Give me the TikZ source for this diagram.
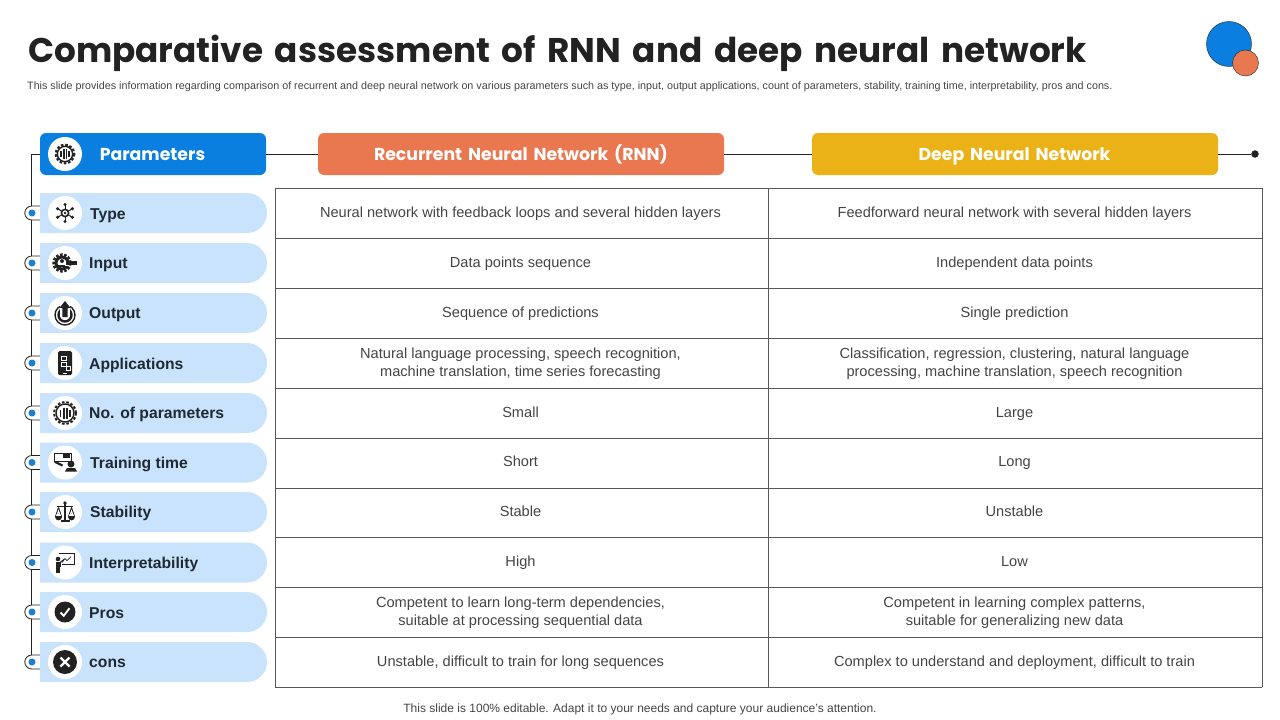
\documentclass[tikz,border=0pt]{standalone}
\usepackage{fontspec}
\setmainfont{Liberation Sans}
\newfontfamily\headfont{Poppins}
\newfontfamily\titlefont[WordSpace=1.6]{Poppins}
\usetikzlibrary{shapes.misc, positioning}

\definecolor{paramblue}{HTML}{0A7FE0}
\definecolor{rnnorange}{HTML}{E97850}
\definecolor{dnnyellow}{HTML}{EAB216}
\definecolor{pillblue}{HTML}{C8E3FB}
\definecolor{dotblue}{HTML}{1A80D0}
\definecolor{inkdark}{HTML}{222222}
\definecolor{labeldark}{HTML}{1F2933}
\definecolor{celltext}{HTML}{444444}

\tikzset{
  headbox/.style={rounded corners=6pt, minimum width=406pt, minimum height=42pt, inner sep=0pt},
  headtext/.style={inner sep=0pt, text=white, font=\headfont\fontsize{17.3}{20}\selectfont\bfseries,
    text height=12pt, text depth=0pt, yshift=-0.5pt},
  pill/.style={rounded rectangle, rounded rectangle left arc=none, fill=pillblue,
    minimum width=227pt, minimum height=40pt, inner sep=0pt},
  rowlabel/.style={anchor=west, inner sep=0pt, yshift=-1.6pt, text=labeldark, font=\fontsize{15.7}{18}\selectfont\bfseries,
    execute at begin node=\vphantom{Ag}},
  cell/.style={align=center, inner sep=0pt, yshift=-1pt, text=celltext, font=\fontsize{14.6}{18}\selectfont,
    execute at begin node=\vphantom{Ag}, execute at end node=\vphantom{Ag}},
  badge/.style={circle, fill=white, minimum size=34pt, inner sep=0pt},
  gridline/.style={draw=black!65, line width=0.9pt},
  % ICONS
  gearicon/.pic={
    \draw[inkdark, line width=2pt, dash pattern=on 2.6pt off 1.8pt] (0,0) circle (11);
    \draw[inkdark, line width=1.4pt, fill=white] (0,0) circle (9);
    \foreach \bx/\bh in {-5.5/3.5,-2.2/5.5,0.8/5.5,3.8/3.5} {\fill[inkdark] (\bx,-\bh) rectangle ++(1.7,2*\bh);}
  },
  typeicon/.pic={
    \foreach \ang in {30,90,150,210,270,330} {
      \draw[inkdark, line width=1pt] (0,0) -- (\ang:8.5);
      \fill[inkdark] (\ang:8.5) circle (1.7);
    }
    \draw[inkdark, line width=1.6pt, fill=white] (0,0) circle (3.6);
    \fill[inkdark] (0,0) circle (1.3);
  },
  inputicon/.pic={
    \draw[inkdark, line width=2.4pt, dash pattern=on 2.6pt off 1.6pt] (-3,0) circle (8.5);
    \draw[inkdark, line width=3pt, fill=white] (-3,0) circle (6);
    \fill[inkdark] (-3,-2) circle (2);
    \fill[inkdark] (-7,4) rectangle (1,1.5);
    \fill[white] (0,-2.5) rectangle (4,2.5);
    \fill[inkdark] (1,-2.4) rectangle (12,2.4);
  },
  outputicon/.pic={
    \draw[inkdark, line width=2.4pt] (0,2) circle (6.5);
    \draw[inkdark, line width=1.4pt] (0,2) circle (10);
    \fill[white] (-5,-10) -- (5,-10) -- (5,0) -- (-5,0) -- cycle;
    \fill[inkdark] (0,-12) -- (5.5,-5) -- (2.6,-5) -- (2.6,4) -- (-2.6,4) -- (-2.6,-5) -- (-5.5,-5) -- cycle;
  },
  phoneicon/.pic={
    \fill[inkdark, rounded corners=1.5pt] (-7,-12) rectangle (7,12);
    \draw[white, line width=0.6pt] (-4,-7) rectangle (1,-3);
    \draw[white, line width=0.6pt] (-4,-1) rectangle (1,3);
    \draw[white, line width=0.6pt] (1,3) -- (5,3) -- (5,7) -- (1,7) -- cycle;
    \fill[white] (-2,10) rectangle (2,10.7);
  },
  trainicon/.pic={
    \draw[inkdark, line width=1pt] (-11,-9) -- (6,-9) -- (6,-1) -- (-11,-1) -- cycle;
    \fill[inkdark] (-2,-8.5) rectangle (5,-5);
    \fill[inkdark] (6,1.5) circle (3.5);
    \fill[inkdark] (0,9) -- (2,5.5) -- (10,5.5) -- (12,9) -- cycle;
    \fill[inkdark] (-11,0) -- (-8,-1) -- (-2,2) -- (-3,4) -- cycle;
  },
  scaleicon/.pic={
    \fill[inkdark] (0,-9) circle (1.8);
    \fill[inkdark] (-0.9,-9) rectangle (0.9,8);
    \fill[inkdark] (-4.5,8) rectangle (4.5,10);
    \fill[inkdark] (-8,-6) rectangle (8,-4.6);
    \foreach \sx in {-6.5,6.5} {
      \draw[inkdark, line width=0.6pt] (\sx,-4.6) -- (\sx-3,5) (\sx,-4.6) -- (\sx+3,5);
      \fill[inkdark] (\sx,5) circle (3.4);
      \fill[white] (\sx-4,1.6) rectangle (\sx+4,4);
      \draw[inkdark, line width=0.6pt] (\sx,-4.6) -- (\sx-3,4) (\sx,-4.6) -- (\sx+3,4);
    }
  },
  boardicon/.pic={
    \draw[inkdark, line width=1pt] (-6,-9) -- (9,-9) -- (9,2) -- (-3,2);
    \draw[inkdark, line width=0.7pt] (-3,0) -- (0,-4) -- (2,-2) -- (6,-6);
    \fill[inkdark] (-7,-3.5) circle (2.3);
    \fill[inkdark] (-9.5,-1) rectangle (-4.5,4.5);
    \fill[inkdark] (-9.2,4.5) rectangle (-7.3,10);
    \fill[inkdark] (-6.7,4.5) rectangle (-4.8,10);
    \draw[inkdark, line width=1.1pt] (-5,0) -- (-1,-3);
  },
  checkicon/.pic={
    \fill[inkdark] (0,0) circle (10.5);
    \draw[white, line width=1.8pt] (-4.5,0.5) -- (-1.2,3.8) -- (4.5,-3.8);
  },
  crossicon/.pic={
    \fill[inkdark] (0,0) circle (12);
    \draw[white, line width=2.4pt] (-4.5,-4.5) -- (4.5,4.5) (-4.5,4.5) -- (4.5,-4.5);
  },
}

\begin{document}
\begin{tikzpicture}[x=1pt, y=-1pt]
\useasboundingbox (0,0) rectangle (1280,720);

% TITLE
\node[anchor=west, inner sep=0pt, text=inkdark, font=\titlefont\fontsize{34.25}{38}\selectfont\bfseries] (title) at (28,53)
  {Comparative assessment of RNN and deep neural network};
\node[anchor=west, inner sep=0pt, text=celltext, font=\fontsize{10.75}{12}\selectfont] (subtitle) at (27,86.5)
  {This slide provides information regarding comparison of recurrent and deep neural network on various parameters such as type, input, output applications, count of parameters, stability, training time, interpretability, pros and cons.};
\node[inner sep=0pt, text=celltext, font=\fontsize{12}{14}\selectfont] (footer) at (640,709)
  {This slide is 100\% editable. Adapt it to your needs and capture your audience's attention.};

% LOGO
\node[circle, draw=inkdark, fill=paramblue, minimum size=45pt, inner sep=0pt] (logoA) at (1229,44) {};
\node[circle, draw=inkdark, fill=rnnorange, minimum size=26pt, inner sep=0pt] (logoB) at (1245.5,63) {};

% HEADERS
\node[headbox, fill=paramblue, minimum width=226pt] (params) at (153,154) {};
\node[headtext] (paramstext) at (152.5,154) {Parameters};
\node[headbox, fill=rnnorange] (rnn) at (521,154) {};
\node[headtext] (rnntext) at (521,154) {Recurrent Neural Network (RNN)};
\node[headbox, fill=dnnyellow] (dnn) at (1015,154) {};
\node[headtext] (dnntext) at (1014.5,154) {Deep Neural Network};
\node[circle, fill=inkdark, minimum size=7.5pt, inner sep=0pt] (enddot) at (1255,154) {};
\node[badge] (parambadge) at (65,154) {};
\pic[scale=0.85] at (parambadge) {gearicon};

% EDGES
\coordinate (trunkend) at (31.5,662);
\draw[inkdark, line width=0.9pt] (params.west) -| (trunkend);
\draw[inkdark, line width=0.9pt] (params.east) -- (rnn.west);
\draw[inkdark, line width=0.9pt] (rnn.east) -- (dnn.west);
\draw[inkdark, line width=0.9pt] (dnn.east) -- (enddot);

% ROWS
\foreach \i/\y/\lx/\ly/\lab/\ico in {
  1/213/90/214/Type/typeicon,
  2/263/89/263/Input/inputicon,
  3/313/89/313/Output/outputicon,
  4/363/89/364/Applications/phoneicon,
  5/413/89/413/No. of parameters/gearicon,
  6/462.5/90/463/Training time/trainicon,
  7/512/90/512/Stability/scaleicon,
  8/562.5/89/563/Interpretability/boardicon,
  9/612/89/613/Pros/checkicon,
  10/662/89/662/cons/crossicon} {
  \node[pill] (pill\i) at (153.5,\y) {};
  \draw[inkdark, line width=0.8pt, fill=white] (pill\i.west) ++(0,-7) -- ++(-8,0) arc (-90:-270:7) -- ++(8,0);
  \node[circle, fill=dotblue, minimum size=7pt, inner sep=0pt] (dot\i) at (32,\y) {};
  \node[badge] (badge\i) at (65,\y) {};
  \pic at (badge\i) {\ico};
  \node[rowlabel] (label\i) at (\lx,\ly) {\lab};
}

% TABLE
\foreach \y in {188,238,288,338,388,438,488,537,587,637,687} {
  \draw[gridline] (275,\y) -- (1262,\y);
}
\foreach \x in {275,768,1262} {
  \draw[gridline] (\x,188) -- (\x,687);
}
\foreach \i/\y/\a/\b in {
  1/212.5/{Neural network with feedback loops and several hidden layers}/{Feedforward neural network with several hidden layers},
  2/262.5/{Data points sequence}/{Independent data points},
  3/312.5/{Sequence of predictions}/{Single prediction},
  4/363/{Natural language processing, speech recognition,\\ machine translation, time series forecasting}/{Classification, regression, clustering, natural language\\ processing, machine translation, speech recognition},
  5/412.5/{Small}/{Large},
  6/461.5/{Short}/{Long},
  7/511.5/{Stable}/{Unstable},
  8/561.5/{High}/{Low},
  9/612/{Competent to learn long-term dependencies,\\ suitable at processing sequential data}/{Competent in learning complex patterns,\\ suitable for generalizing new data},
  10/661.5/{Unstable, difficult to train for long sequences}/{Complex to understand and deployment, difficult to train}} {
  \node[cell] (rnn\i) at (520.5,\y) {\a};
  \node[cell] (dnn\i) at (1014.5,\y) {\b};
}

\end{tikzpicture}
\end{document}
